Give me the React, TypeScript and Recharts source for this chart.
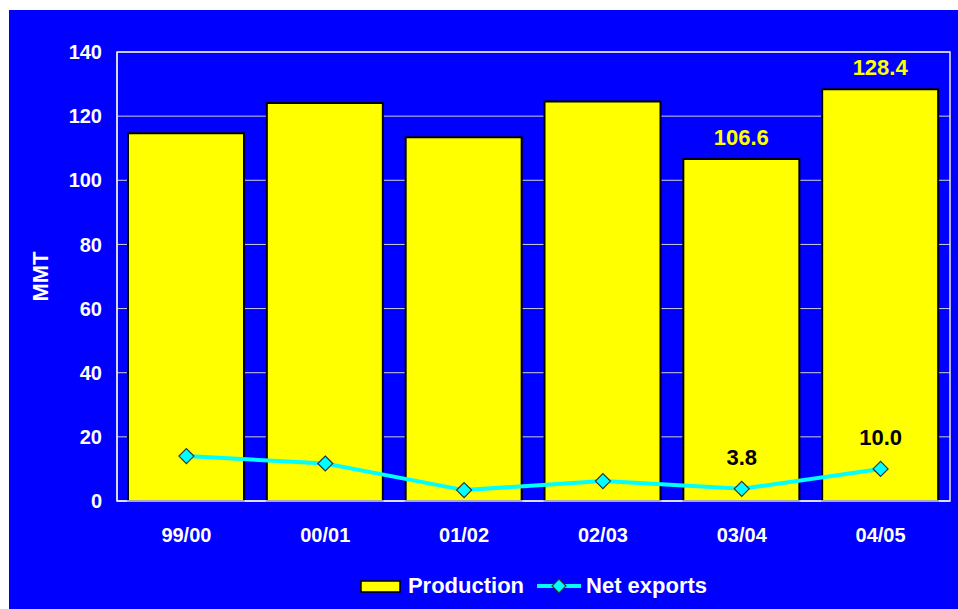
import React from 'react';
import {
  ComposedChart,
  Bar,
  Line,
  XAxis,
  YAxis,
  CartesianGrid,
  Legend,
  LabelList,
  ReferenceArea,
} from 'recharts';

// Marketing years
const seasons = ['99/00', '00/01', '01/02', '02/03', '03/04', '04/05'];
// Production, MMT
const production = [114.7, 124.1, 113.4, 124.6, 106.6, 128.4];
// Net exports, MMT
const netExports = [14.0, 11.7, 3.4, 6.2, 3.8, 10.0];
// Seasons whose values are printed
const labelledSeasons = ['03/04', '04/05'];
const yTicks = [0, 20, 40, 60, 80, 100, 120, 140];

const data = seasons.map((season, i) => ({
  season,
  production: production[i],
  netExports: netExports[i],
}));

const FONT = '"Liberation Sans", Arial, Helvetica, sans-serif';
const BLUE = '#0000FF';
const YELLOW = '#FFFF00';
const CYAN = '#00FFFF';

const Diamond = (props: any) => {
  const { cx, cy } = props;
  if (cx == null || cy == null) return null;
  const r = 7.5;
  return (
    <polygon
      points={`${cx},${cy - r} ${cx + r},${cy} ${cx},${cy + r} ${cx - r},${cy}`}
      fill={CYAN}
      stroke="#333333"
      strokeWidth={1.2}
    />
  );
};

const valueLabel = (color: string, offset: number) => (props: any) => {
  const { x, y, width, value, index } = props;
  if (!labelledSeasons.includes(seasons[index])) return null;
  const cx = width != null ? x + width / 2 : x;
  return (
    <text
      x={cx}
      y={y - offset}
      textAnchor="middle"
      fill={color}
      fontFamily={FONT}
      fontWeight="bold"
      fontSize={22}
    >
      {Number(value).toFixed(1)}
    </text>
  );
};

const LegendContent = () => (
  <div
    style={{
      display: 'flex',
      justifyContent: 'center',
      alignItems: 'center',
      height: 28,
      fontFamily: FONT,
      fontWeight: 'bold',
      fontSize: 22,
      color: '#FFFFFF',
    }}
  >
    <svg width={41} height={13} style={{ marginRight: 7 }}>
      <rect x={1} y={1} width={39} height={11} fill={YELLOW} stroke="#000" strokeWidth={1.5} />
    </svg>
    <span style={{ marginRight: 13 }}>Production</span>
    <svg width={44} height={16} style={{ marginRight: 5 }}>
      <line x1={0} y1={8} x2={44} y2={8} stroke={CYAN} strokeWidth={4} />
      <polygon points="22,1 29,8 22,15 15,8" fill={CYAN} stroke="#333" strokeWidth={1.2} />
    </svg>
    <span>Net exports</span>
  </div>
);

const App = () => {
  return (
    <div style={{ position: 'absolute', left: 9, top: 10, width: 949, height: 599, background: BLUE }}>
      <ComposedChart
        width={949}
        height={599}
        data={data}
        margin={{ top: 42, right: 8, bottom: 48, left: 0 }}
      >
        <CartesianGrid horizontal vertical={false} stroke="#D0D0D0" strokeWidth={1} />
        <ReferenceArea y1={0} y2={140} fill="none" stroke="#E6E6E6" strokeWidth={1.5} ifOverflow="visible" />
        <XAxis
          dataKey="season"
          height={60}
          axisLine={{ stroke: '#E6E6E6', strokeWidth: 1.5 }}
          tickLine={false}
          tickSize={0}
          tickMargin={27}
          tick={{ fill: '#FFFFFF', fontFamily: FONT, fontWeight: 'bold', fontSize: 20 }}
        />
        <YAxis
          width={108}
          domain={[0, 140]}
          ticks={yTicks}
          interval={0}
          axisLine={{ stroke: '#E6E6E6', strokeWidth: 1.5 }}
          tickLine={false}
          tickSize={0}
          tickMargin={15}
          tick={{ fill: '#FFFFFF', fontFamily: FONT, fontWeight: 'bold', fontSize: 20 }}
          label={({ viewBox }: any) => {
            const cx = 31;
            const cy = viewBox.y + viewBox.height / 2;
            return (
              <text
                x={cx}
                y={cy}
                transform={`rotate(-90, ${cx}, ${cy})`}
                textAnchor="middle"
                dominantBaseline="central"
                fill="#FFFFFF"
                fontFamily={FONT}
                fontWeight="bold"
                fontSize={22}
              >
                MMT
              </text>
            );
          }}
        />
        <Legend
          verticalAlign="middle"
          align="center"
          layout="horizontal"
          wrapperStyle={{ top: 562, left: 108, width: 833, height: 28 }}
          content={<LegendContent />}
        />
        <Bar
          dataKey="production"
          name="Production"
          fill={YELLOW}
          stroke="#000000"
          strokeWidth={2}
          barSize={116}
          isAnimationActive={false}
        >
          <LabelList dataKey="production" content={valueLabel(YELLOW, 14)} />
        </Bar>
        <Line
          type="linear"
          dataKey="netExports"
          name="Net exports"
          stroke={CYAN}
          strokeWidth={4}
          dot={<Diamond />}
          activeDot={false}
          isAnimationActive={false}
        >
          <LabelList dataKey="netExports" content={valueLabel('#000000', 24)} />
        </Line>
      </ComposedChart>
    </div>
  );
};

export default App;
